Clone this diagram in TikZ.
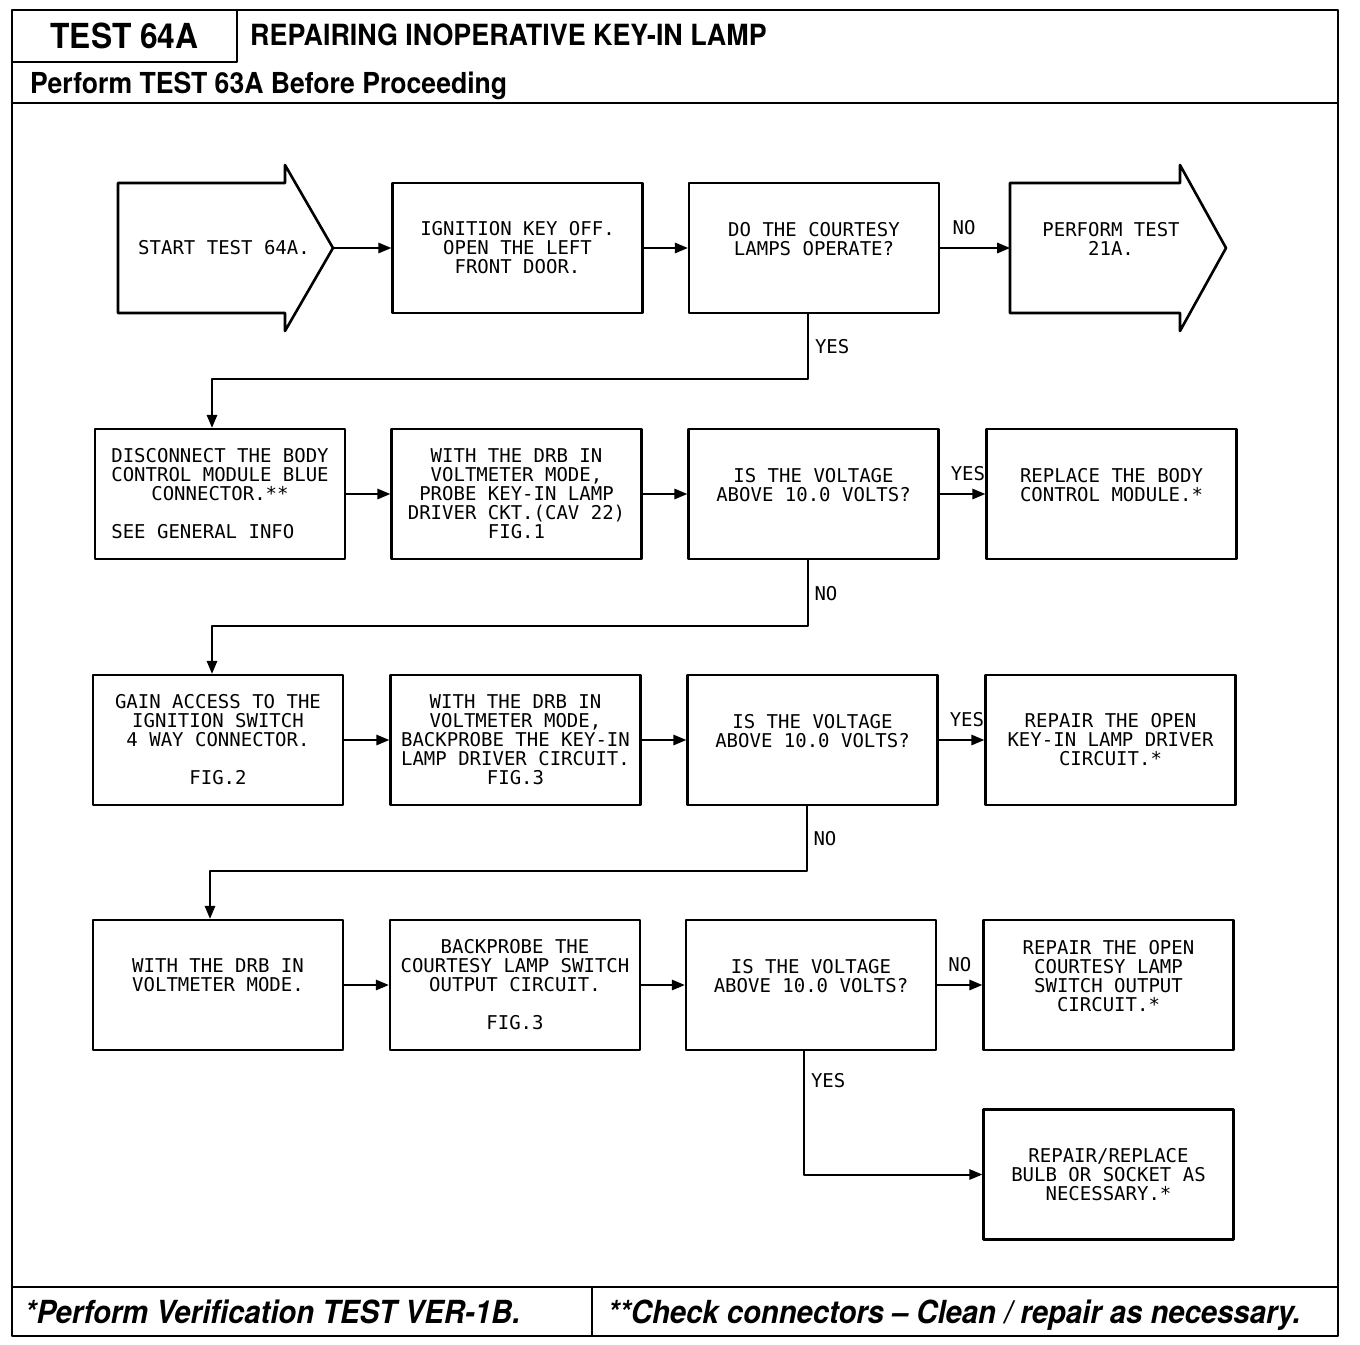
\documentclass[tikz,border=0pt]{standalone}
\usepackage{fontspec}
\setmainfont{TeX Gyre Heros}
\newfontfamily\plotfont{DejaVu Sans Mono}
\newfontfamily\headfont[FakeStretch=0.92,Ligatures=TeX]{TeX Gyre Heros}
\usetikzlibrary{arrows}
\newcommand{\boxfont}{\plotfont\fontsize{19}{19}\selectfont}

\begin{document}
\begin{tikzpicture}[x=1pt,y=-1pt,line cap=round,line join=round,>=triangle 45,
  stepbox/.style={draw,line width=2.6pt,minimum width=250pt,minimum height=130pt,inner sep=0pt,align=center,font=\boxfont},
  arrowtext/.style={inner sep=0pt,align=center,font=\boxfont},
  upper/.style={text depth=19pt},
  link/.style={->,line width=2pt},
  lab/.style={font=\boxfont,inner sep=2pt},
  frame/.style={line width=2.2pt}]
\useasboundingbox (0,0) rectangle (1360,1344);
% frame and header
\draw[frame] (12,10) rectangle (1338,1336);
\draw[frame] (12,62) -- (237,62) -- (237,10);
\draw[frame] (12,103) -- (1338,103);
\draw[frame] (12,1287) -- (1338,1287);
\draw[frame] (592,1287) -- (592,1336);
\node[anchor=base,inner sep=0pt,font=\headfont\bfseries\fontsize{34.5}{40}\selectfont] (testno) at (124.5,48) {TEST 64A};
\node[anchor=base west,inner sep=0pt,font=\headfont\bfseries\fontsize{29.2}{34}\selectfont] (title) at (250,45) {REPAIRING INOPERATIVE KEY-IN LAMP};
\node[anchor=base west,inner sep=0pt,font=\headfont\bfseries\fontsize{28.9}{34}\selectfont] (before) at (30,93) {Perform TEST 63A Before Proceeding};
\node[anchor=base west,inner sep=0pt,font=\headfont\bfseries\itshape\fontsize{31.8}{36}\selectfont] (verif) at (25,1323) {*Perform Verification TEST VER-1B.};
\node[anchor=base west,inner sep=0pt,font=\headfont\bfseries\itshape\fontsize{31.8}{36}\selectfont] (check) at (608,1323) {**Check connectors – Clean / repair as necessary.};
% row 1
\draw[line width=2.6pt] (118,183) -- (285,183) -- (285,165) -- (333,248) -- (285,331) -- (285,313) -- (118,313) -- cycle;
\coordinate (starttip) at (333,248);
\node[arrowtext] (start) at (224,248) {START TEST 64A.};
\node[stepbox] (ign) at (517.5,248) {IGNITION KEY OFF.\\OPEN THE LEFT\\FRONT DOOR.};
\node[stepbox,upper] (q1) at (814,248) {DO THE COURTESY\\LAMPS OPERATE?};
\draw[line width=2.6pt] (1010,183) -- (1180,183) -- (1180,165) -- (1226,248) -- (1180,331) -- (1180,313) -- (1010,313) -- cycle;
\coordinate (t21atail) at (1010,248);
\node[arrowtext,upper] (t21a) at (1111,248) {PERFORM TEST\\21A.};
% row 2
\node[stepbox] (dis) at (220,494) {DISCONNECT THE BODY\\CONTROL MODULE BLUE\\CONNECTOR.**\\ \mbox{}\\SEE GENERAL INFO\phantom{ABC}};
\node[stepbox] (probe) at (516.5,494) {WITH THE DRB IN\\VOLTMETER MODE,\\PROBE KEY-IN LAMP\\DRIVER CKT.(CAV 22)\\FIG.1};
\node[stepbox,upper] (q2) at (813.5,494) {IS THE VOLTAGE\\ABOVE 10.0 VOLTS?};
\node[stepbox,upper] (bcm) at (1111.5,494) {REPLACE THE BODY\\CONTROL MODULE.*};
% row 3
\node[stepbox] (gain) at (218,740) {GAIN ACCESS TO THE\\IGNITION SWITCH\\4 WAY CONNECTOR.\\ \mbox{}\\FIG.2};
\node[stepbox] (back) at (515.5,740) {WITH THE DRB IN\\VOLTMETER MODE,\\BACKPROBE THE KEY-IN\\LAMP DRIVER CIRCUIT.\\FIG.3};
\node[stepbox,upper] (q3) at (812.5,740) {IS THE VOLTAGE\\ABOVE 10.0 VOLTS?};
\node[stepbox] (open) at (1110.5,740) {REPAIR THE OPEN\\KEY-IN LAMP DRIVER\\CIRCUIT.*};
% row 4
\node[stepbox,upper] (with) at (218,985) {WITH THE DRB IN\\VOLTMETER MODE.};
\node[stepbox] (court) at (515,985) {BACKPROBE THE\\COURTESY LAMP SWITCH\\OUTPUT CIRCUIT.\\ \mbox{}\\FIG.3};
\node[stepbox,upper] (q4) at (811,985) {IS THE VOLTAGE\\ABOVE 10.0 VOLTS?};
\node[stepbox,upper] (csw) at (1108.5,985) {REPAIR THE OPEN\\COURTESY LAMP\\SWITCH OUTPUT\\CIRCUIT.*};
\node[stepbox] (bulb) at (1108.5,1174.5) {REPAIR/REPLACE\\BULB OR SOCKET AS\\NECESSARY.*};
% connectors
\draw[link] (starttip) -- (ign.west);
\draw[link] (ign) -- (q1);
\draw[link] (q1) -- node[lab,pos=0.34,above=10pt] {NO} (t21atail);
\draw[link] ([xshift=-6pt]q1.south) -- node[lab,right=4pt] {YES} ++(0,65) -| ([xshift=-8pt]dis.north);
\draw[link] (dis) -- (probe);
\draw[link] (probe) -- (q2);
\draw[link] (q2) -- node[lab,pos=0.62,above=10pt] {YES} (bcm);
\draw[link] ([xshift=-6pt]q2.south) -- node[lab,right=4pt] {NO} ++(0,66) -| ([xshift=-6pt]gain.north);
\draw[link] (gain) -- (back);
\draw[link] (back) -- (q3);
\draw[link] (q3) -- node[lab,pos=0.62,above=10pt] {YES} (open);
\draw[link] ([xshift=-6pt]q3.south) -- node[lab,right=4pt] {NO} ++(0,65) -| ([xshift=-8pt]with.north);
\draw[link] (with) -- (court);
\draw[link] (court) -- (q4);
\draw[link] (q4) -- node[lab,pos=0.5,above=10pt] {NO} (csw);
\draw[link] ([xshift=-7pt]q4.south) |- node[lab,pos=0.12,right=4pt] {YES} (bulb.west);
\end{tikzpicture}
\end{document}
